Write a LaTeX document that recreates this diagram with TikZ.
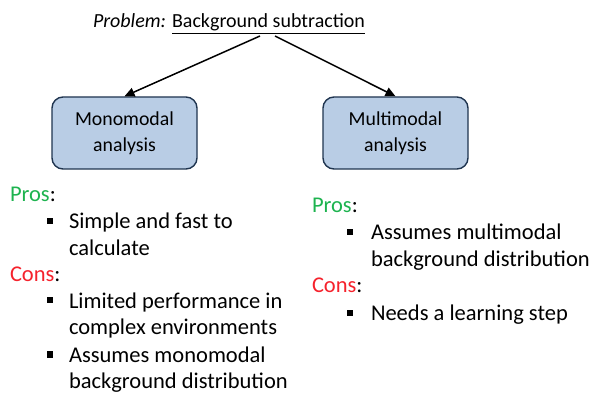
\documentclass[tikz,border=0pt]{standalone}
\usepackage{fontspec}
\setmainfont{Carlito}
\usetikzlibrary{arrows.meta}
\definecolor{boxfill}{HTML}{B9CDE5}
\definecolor{boxdraw}{HTML}{1F344F}
\definecolor{progreen}{HTML}{1DB34F}
\definecolor{conred}{HTML}{F5222C}
\newcommand{\sqbullet}{\rule[0.2em]{6pt}{6pt}}
\tikzset{
  txt/.style={inner sep=0pt, outer sep=0pt, font=\fontsize{22.5}{26.5}\selectfont, anchor=base west, align=left},
  ttl/.style={inner sep=0pt, outer sep=0pt, font=\fontsize{20}{24}\selectfont, anchor=base west},
  modbox/.style={draw=boxdraw, line width=1.4pt, fill=boxfill, rounded corners=11pt,
    minimum width=145pt, minimum height=72pt, inner sep=0pt, align=center,
    font=\fontsize{19.8}{26}\selectfont},
  conn/.style={line width=1.5pt, -{Triangle[length=10pt,width=9pt]}},
  bul/.style={inner sep=0pt, anchor=base west}
}
\begin{document}
\begin{tikzpicture}[x=1pt,y=-1pt]
\useasboundingbox (0,0) rectangle (590,393);
\node[ttl] (title) at (93,28) {\textit{Problem:} \underline{Background subtraction}};
\node[modbox] (mono) at (124.5,133) {Monomodal\\analysis};
\node[modbox] (multi) at (395.5,133) {Multimodal\\analysis};
\coordinate (s1) at (260,36);
\coordinate (s2) at (275,36);
\draw[conn] (s1) -- (mono.north);
\draw[conn] (s2) -- (multi.north);
% left list (multi-line nodes are placed at their last baseline)
\node[txt] (lpros) at (10,202) {\textcolor{progreen}{Pros}:};
\node[bul,txt] (lb1) at (47,229) {\sqbullet};
\node[txt] (li1) at (69,255.5) {Simple and fast to\\calculate};
\node[txt] (lcons) at (10,282) {\textcolor{conred}{Cons}:};
\node[bul,txt] (lb2) at (47,308) {\sqbullet};
\node[txt] (li2) at (69,334.5) {Limited performance in\\complex environments};
\node[bul,txt] (lb3) at (47,362) {\sqbullet};
\node[txt] (li3) at (69,388.5) {Assumes monomodal\\background distribution};
% right list
\node[txt] (rpros) at (312,213) {\textcolor{progreen}{Pros}:};
\node[bul,txt] (rb1) at (347,240) {\sqbullet};
\node[txt] (ri1) at (371,266.5) {Assumes multimodal\\background distribution};
\node[txt] (rcons) at (312,293) {\textcolor{conred}{Cons}:};
\node[bul,txt] (rb2) at (347,320) {\sqbullet};
\node[txt] (ri2) at (371,320) {Needs a learning step};
\end{tikzpicture}
\end{document}
